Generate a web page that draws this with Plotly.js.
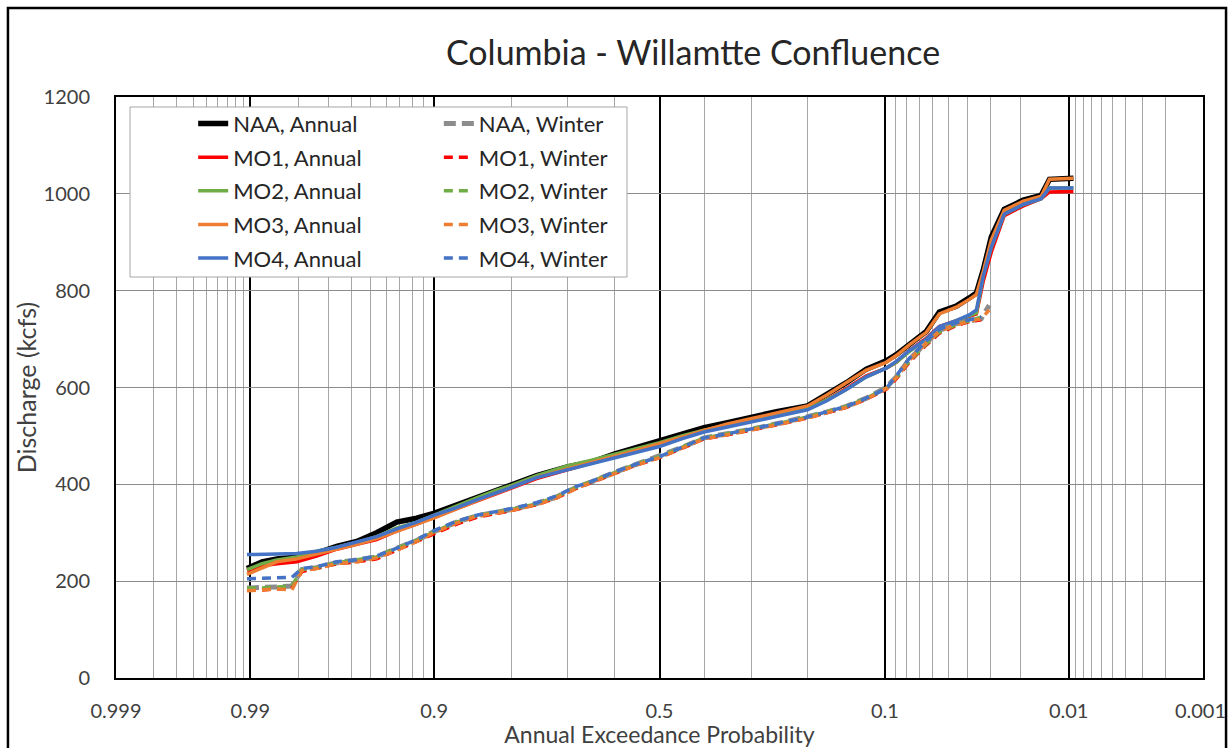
<!DOCTYPE html>
<html>
<head>
<meta charset="utf-8">
<script src="https://cdn.plot.ly/plotly-3.0.1.min.js"></script>
<style>html,body{margin:0;padding:0;background:#fff;}#chart{width:1231px;height:748px;}</style>
</head>
<body>
<div id="chart"></div>
<script>
// ---------- data ----------
const majorTickProbs = [0.999, 0.99, 0.9, 0.5, 0.1, 0.01, 0.001];
const majorTickText  = ["0.999", "0.99", "0.9", "0.5", "0.1", "0.01", "0.001\u00A0"];
const minorGridProbs = [0.998, 0.997, 0.996, 0.995, 0.994, 0.993, 0.992, 0.991,
  0.98, 0.97, 0.96, 0.95, 0.94, 0.93, 0.92, 0.91,
  0.8, 0.7, 0.6, 0.4, 0.3, 0.2,
  0.09, 0.08, 0.07, 0.06, 0.05, 0.04, 0.03, 0.02,
  0.009, 0.008, 0.007, 0.006, 0.005, 0.004, 0.003, 0.002];

const probAnnual = [0.9905, 0.9881, 0.9852, 0.9804, 0.9744, 0.9668, 0.9574, 0.9461, 0.9324, 0.9163,
  0.9004, 0.8756, 0.8508, 0.8228, 0.80, 0.7577, 0.70, 0.6504, 0.60, 0.552,
  0.50, 0.45, 0.40, 0.352, 0.30, 0.253, 0.20, 0.1713, 0.144, 0.1198,
  0.0987, 0.0891, 0.0778, 0.0646, 0.0558, 0.0458, 0.0391, 0.0358, 0.0328, 0.0296,
  0.0250, 0.0193, 0.0150, 0.0133, 0.0093];
const naaAnnual = [226, 240, 246, 250, 258, 272, 282, 300, 322, 330,
  340, 358, 372, 388, 398, 418, 436, 446, 463, 476,
  491, 505, 517, 527, 539, 550, 562, 584, 610, 638,
  655, 668, 690, 716, 756, 768, 785, 795, 843, 911,
  968, 987, 997, 1030, 1032];
const mo1Annual = [222, 232, 236, 240, 252, 266, 276, 286, 304, 318,
  332, 350, 366, 382, 394, 412, 430, 444, 458, 470,
  484, 498, 512, 522, 534, 544, 556, 574, 598, 624,
  640, 652, 676, 702, 726, 738, 748, 752, 820, 880,
  955, 975, 990, 1004, 1005];
const mo2Annual = [224, 236, 244, 250, 262, 270, 280, 292, 310, 322,
  336, 356, 372, 388, 398, 418, 438, 450, 462, 474,
  486, 500, 512, 522, 534, 544, 556, 574, 596, 622,
  640, 652, 674, 700, 724, 738, 748, 754, 830, 890,
  958, 978, 990, 1012, 1012];
const mo3Annual = [214, 228, 240, 246, 256, 266, 276, 288, 304, 318,
  330, 350, 366, 382, 394, 414, 432, 446, 458, 470,
  484, 498, 512, 524, 536, 548, 562, 584, 610, 636,
  652, 666, 688, 714, 752, 766, 782, 792, 840, 905,
  966, 985, 995, 1030, 1032];
const mo4Annual = [255, 255, 256, 257, 262, 270, 282, 292, 308, 322,
  336, 352, 368, 382, 394, 414, 430, 442, 454, 466,
  478, 494, 508, 518, 530, 540, 554, 572, 596, 622,
  640, 654, 676, 700, 726, 738, 750, 760, 830, 890,
  958, 978, 990, 1012, 1012];

const probWinter = [0.9905, 0.9881, 0.9852, 0.9817, 0.979, 0.9744, 0.9668, 0.9574, 0.9461, 0.9324,
  0.9163, 0.9004, 0.8756, 0.8508, 0.8228, 0.80, 0.7577, 0.7208, 0.6814, 0.6504,
  0.60, 0.552, 0.50, 0.45, 0.40, 0.352, 0.30, 0.253, 0.20, 0.1713,
  0.144, 0.1198, 0.0987, 0.0891, 0.0778, 0.0646, 0.0558, 0.0458, 0.0391, 0.0337,
  0.0304];
const naaWinter = [186, 186, 188, 190, 224, 228, 238, 244, 250, 268,
  284, 302, 322, 335, 342, 348, 360, 374, 394, 405,
  425, 441, 457, 476, 496, 504, 514, 525, 539, 549,
  561, 578, 600, 622, 658, 694, 718, 732, 738, 742,
  770];
const mo1Winter = [182, 182, 184, 186, 220, 226, 236, 240, 246, 264,
  282, 298, 318, 332, 340, 346, 358, 372, 392, 404,
  424, 440, 455, 474, 494, 502, 512, 523, 537, 547,
  559, 576, 596, 618, 652, 688, 712, 728, 736, 740,
  null];
const mo2Winter = [186, 186, 188, 190, 224, 228, 238, 244, 250, 268,
  284, 302, 322, 335, 342, 348, 360, 374, 394, 406,
  426, 442, 457, 476, 496, 504, 514, 525, 539, 549,
  561, 578, 598, 620, 654, 690, 714, 730, 738, 745,
  null];
const mo3Winter = [180, 182, 184, 182, 222, 226, 236, 240, 248, 264,
  282, 300, 320, 334, 340, 346, 358, 372, 392, 404,
  424, 440, 455, 474, 494, 502, 512, 523, 537, 547,
  559, 576, 598, 620, 656, 692, 716, 730, 736, 742,
  760];
const mo4Winter = [205, 206, 207, 208, 226, 230, 240, 244, 252, 268,
  286, 304, 324, 336, 344, 350, 362, 376, 396, 406,
  426, 442, 457, 476, 496, 504, 514, 525, 539, 549,
  561, 578, 598, 624, 660, 696, 720, 734, 740, 745,
  null];

const seriesNames = ["NAA", "MO1", "MO2", "MO3", "MO4"];
const seriesColors = ["#000000", "#FF0000", "#70AD47", "#ED7D31", "#4472C4"];
const winterColors = ["#8C8C8C", "#FF0000", "#70AD47", "#ED7D31", "#4472C4"];

// ---------- normal-probability scale ----------
function normInv(p) {
  const a = [-3.969683028665376e+01, 2.209460984245205e+02, -2.759285104469687e+02, 1.383577518672690e+02, -3.066479806614716e+01, 2.506628277459239e+00];
  const b = [-5.447609879822406e+01, 1.615858368580409e+02, -1.556989798598866e+02, 6.680131188771972e+01, -1.328068155288572e+01];
  const c = [-7.784894002430293e-03, -3.223964580411365e-01, -2.400758277161838e+00, -2.549732539343734e+00, 4.374664141464968e+00, 2.938163982698783e+00];
  const d = [7.784695709041462e-03, 3.224671290700398e-01, 2.445134137142996e+00, 3.754408661907416e+00];
  const pl = 0.02425, ph = 1 - pl;
  let q, r;
  if (p < pl) {
    q = Math.sqrt(-2 * Math.log(p));
    return (((((c[0]*q+c[1])*q+c[2])*q+c[3])*q+c[4])*q+c[5]) / ((((d[0]*q+d[1])*q+d[2])*q+d[3])*q+1);
  } else if (p <= ph) {
    q = p - 0.5; r = q*q;
    return (((((a[0]*r+a[1])*r+a[2])*r+a[3])*r+a[4])*r+a[5])*q / (((((b[0]*r+b[1])*r+b[2])*r+b[3])*r+b[4])*r+1);
  } else {
    q = Math.sqrt(-2 * Math.log(1 - p));
    return -(((((c[0]*q+c[1])*q+c[2])*q+c[3])*q+c[4])*q+c[5]) / ((((d[0]*q+d[1])*q+d[2])*q+d[3])*q+1);
  }
}
// exceedance probability -> position (high probability on the left)
const toX = p => -normInv(p);

const annualVals = [naaAnnual, mo1Annual, mo2Annual, mo3Annual, mo4Annual];
const winterVals = [naaWinter, mo1Winter, mo2Winter, mo3Winter, mo4Winter];

const traces = [];
annualVals.forEach((vals, i) => {
  traces.push({
    type: "scatter", mode: "lines",
    x: probAnnual.map(toX), y: vals,
    name: seriesNames[i] + ", Annual",
    legend: "legend", legendgroup: "a" + i,
    line: {color: seriesColors[i], width: i === 0 ? 5.5 : 3.5},
    customdata: probAnnual,
    hovertemplate: "%{customdata}: %{y}<extra>%{fullData.name}</extra>"
  });
});
winterVals.forEach((vals, i) => {
  traces.push({
    type: "scatter", mode: "lines",
    x: probWinter.map(toX), y: vals,
    name: seriesNames[i] + ", Winter",
    legend: "legend2", legendgroup: "w" + i,
    line: {color: winterColors[i], width: i === 0 ? 5 : 3.5, dash: i === 0 ? "12px,6px" : "9px,6px"},
    connectgaps: false,
    customdata: probWinter,
    hovertemplate: "%{customdata}: %{y}<extra>%{fullData.name}</extra>"
  });
});

const FONT = "Lato, 'Open Sans', sans-serif";
const xRange = [toX(0.999), toX(0.001)];

const layout = {
  width: 1231, height: 748,
  paper_bgcolor: "#ffffff", plot_bgcolor: "#ffffff",
  margin: {l: 116, r: 28, t: 97, b: 70},
  font: {family: FONT, color: "#404040"},
  showlegend: true,
  title: {
    text: "Columbia - Willamtte Confluence",
    font: {family: FONT, size: 34, color: "#262626"},
    x: 0.563, xref: "container", xanchor: "center",
    y: 0.929, yref: "container", yanchor: "middle"
  },
  xaxis: {
    range: xRange, autorange: false,
    tickmode: "array",
    tickvals: majorTickProbs.map(toX), ticktext: majorTickText,
    showgrid: true, gridcolor: "#000000", gridwidth: 2,
    minor: {tickmode: "array", tickvals: minorGridProbs.map(toX), showgrid: true, gridcolor: "#a6a6a6", gridwidth: 1, ticks: ""},
    zeroline: false,
    showline: true, linecolor: "#000000", linewidth: 2, mirror: true,
    ticks: "", ticklabelstandoff: 14, ticklabeloverflow: "allow",
    tickfont: {family: FONT, size: 20, color: "#404040"},
    title: {text: "Annual Exceedance Probability", font: {family: FONT, size: 23, color: "#404040"}, standoff: 4}
  },
  yaxis: {
    range: [0, 1200], autorange: false,
    tickmode: "linear", tick0: 0, dtick: 200,
    showgrid: true, gridcolor: "#8c8c8c", gridwidth: 1,
    zeroline: false,
    showline: true, linecolor: "#000000", linewidth: 2, mirror: true,
    ticks: "", ticklabelstandoff: 20,
    tickfont: {family: FONT, size: 20, color: "#404040"},
    title: {text: "Discharge (kcfs)", font: {family: FONT, size: 25, color: "#404040"}, standoff: 0}
  },
  legend: {
    x: 0.071, xanchor: "left", y: 0.99, yanchor: "top",
    orientation: "v", bgcolor: "rgba(0,0,0,0)", borderwidth: 0,
    font: {family: FONT, size: 22, color: "#262626"},
    tracegroupgap: 2, traceorder: "grouped"
  },
  legend2: {
    x: 0.297, xanchor: "left", y: 0.99, yanchor: "top",
    orientation: "v", bgcolor: "rgba(0,0,0,0)", borderwidth: 0,
    font: {family: FONT, size: 22, color: "#262626"},
    tracegroupgap: 2, traceorder: "grouped"
  },
  shapes: [
    {type: "rect", xref: "paper", yref: "paper", x0: 0.0129, x1: 0.4701, y0: 0.6902, y1: 0.9828,
     fillcolor: "#ffffff", line: {color: "#a6a6a6", width: 1}, layer: "above"},
    {type: "rect", xref: "paper", yref: "paper", x0: -0.0994, x1: 1.0212, y0: -0.141, y1: 1.1532,
     fillcolor: "rgba(0,0,0,0)", line: {color: "#000000", width: 2.5}, layer: "below"}
  ]
};

Plotly.newPlot("chart", traces, layout, {displayModeBar: false, responsive: false});
</script>
</body>
</html>
